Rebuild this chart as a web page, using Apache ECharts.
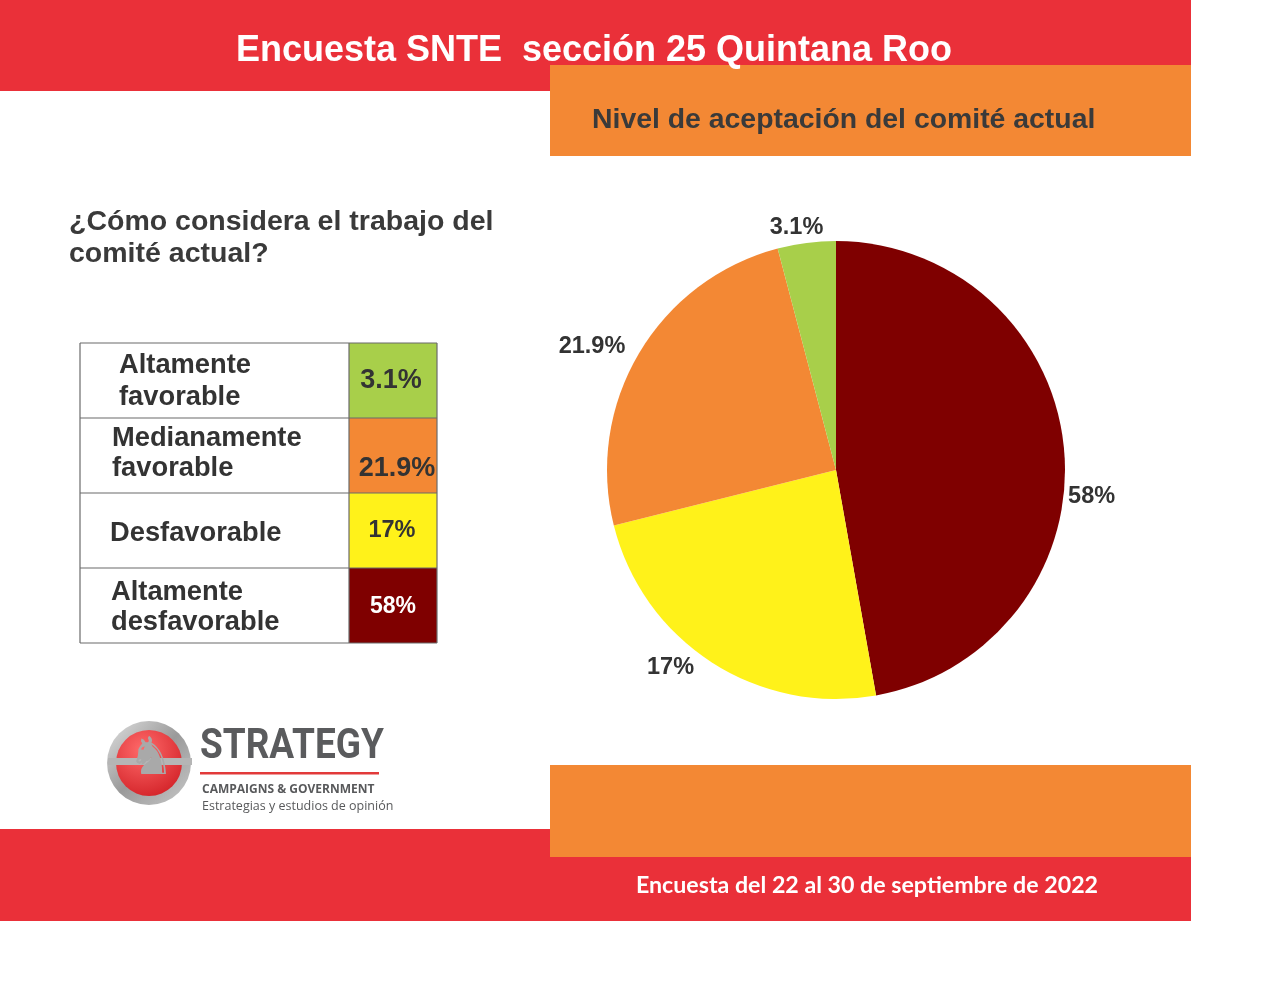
<!DOCTYPE html>
<html><head><meta charset="utf-8">
<script src="https://cdn.jsdelivr.net/npm/echarts@6/dist/echarts.min.js"></script>
<style>html,body{margin:0;padding:0;background:#fff}#c{width:1280px;height:1002px}</style>
</head><body><div id="c"></div>
<script>
// ---- data ----
const categories = ['Altamente desfavorable', 'Desfavorable', 'Medianamente favorable', 'Altamente favorable'];
// slice shares as drawn in the reference pie (degrees measured / 360)
const sliceShares = [47.2, 23.9, 24.8, 4.1];
// percentage labels printed on the reference
const shownLabels = ['58%', '17%', '21.9%', '3.1%'];
const sliceColors = ['#7f0000', '#fff21a', '#f38834', '#a8cf4a'];
// table (top to bottom)
const tableRows = [
  {lines: ['Altamente', 'favorable'], idx: 3},
  {lines: ['Medianamente', 'favorable'], idx: 2},
  {lines: ['Desfavorable'], idx: 1},
  {lines: ['Altamente', 'desfavorable'], idx: 0}
];
// label nudges (style only)
const labelNudge = [[-15, 48], [-3, -3], [4, -2], [27, -5]];

const RED = '#ea3039', ORANGE = '#f38834', DARK = '#333333';
const chart = echarts.init(document.getElementById('c'), null, {renderer: 'canvas'});

const g = [];
// top red band and orange header
g.push({type: 'rect', shape: {x: 0, y: 0, width: 1191, height: 91}, style: {fill: RED}, z: 1});
g.push({type: 'rect', shape: {x: 550, y: 65, width: 641, height: 91}, style: {fill: ORANGE}, z: 2});
g.push({type: 'text', x: 594, y: 51, z: 3, style: {text: 'Encuesta SNTE  sección 25 Quintana Roo', fill: '#fff',
  font: 'bold 36px "Liberation Sans", Arial', textAlign: 'center', textVerticalAlign: 'middle'}});
g.push({type: 'text', x: 592, y: 120, z: 3, style: {text: 'Nivel de aceptación del comité actual', fill: '#3a3a3a',
  font: 'bold 28.4px "Liberation Sans", Arial', textAlign: 'left', textVerticalAlign: 'middle'}});
// question
g.push({type: 'text', x: 69, y: 222, z: 3, style: {text: '¿Cómo considera el trabajo del', fill: '#3a3a3a',
  font: 'bold 28.5px "Liberation Sans", Arial', textVerticalAlign: 'middle'}});
g.push({type: 'text', x: 69, y: 254, z: 3, style: {text: 'comité actual?', fill: '#3a3a3a',
  font: 'bold 28.5px "Liberation Sans", Arial', textVerticalAlign: 'middle'}});
// table
const tX = 80, tW1 = 269, tW2 = 88, tY = 343, rowH = 75;
const labelX = [119, 112, 110, 111];
const lineYs = [[22, 54], [20, 50], [40], [24, 54]];
const valY = [38, 51, 38, 39];
const valSize = [27, 27, 23.5, 23];
const valX = [391, 397, 392, 393];
tableRows.forEach((r, i) => {
  const y = tY + i * rowH;
  g.push({type: 'rect', shape: {x: tX + tW1, y: y, width: tW2, height: rowH}, style: {fill: sliceColors[r.idx]}, z: 3});
  r.lines.forEach((ln, k) => {
    g.push({type: 'text', x: labelX[i], y: y + lineYs[i][k], z: 4, style: {text: ln, fill: DARK,
      font: 'bold 27.3px "Liberation Sans", Arial', textVerticalAlign: 'middle'}});
  });
  g.push({type: 'text', x: valX[i], y: y + valY[i], z: 4, style: {text: shownLabels[r.idx],
    fill: r.idx === 0 ? '#fff' : DARK, font: 'bold ' + valSize[i] + 'px "Liberation Sans", Arial', textAlign: 'center', textVerticalAlign: 'middle'}});
});
// grid lines of table
for (let i = 0; i <= 4; i++) {
  g.push({type: 'line', shape: {x1: tX, y1: tY + i * rowH, x2: tX + tW1 + tW2, y2: tY + i * rowH}, style: {stroke: '#6b6b6b', lineWidth: 1.2}, z: 5});
}
[tX, tX + tW1, tX + tW1 + tW2].forEach(x => {
  g.push({type: 'line', shape: {x1: x, y1: tY, x2: x, y2: tY + 4 * rowH}, style: {stroke: '#6b6b6b', lineWidth: 1.2}, z: 5});
});
// logo
g.push({type: 'circle', shape: {cx: 149, cy: 763, r: 42}, z: 3, style: {fill: new echarts.graphic.LinearGradient(0, 0, 1, 1, [
  {offset: 0, color: '#e0e0e0'}, {offset: 0.5, color: '#9a9a9a'}, {offset: 1, color: '#c8c8c8'}])}});
g.push({type: 'circle', shape: {cx: 149, cy: 763, r: 33}, z: 4, style: {fill: new echarts.graphic.RadialGradient(0.4, 0.3, 0.8, [
  {offset: 0, color: '#ff6a6a'}, {offset: 1, color: '#d11f25'}])}});
g.push({type: 'rect', shape: {x: 108, y: 758, width: 84, height: 7}, z: 5, style: {fill: '#b5b5b5'}});
g.push({type: 'text', x: 151, y: 760, z: 6, style: {text: '♞', fill: '#a9a9a9', font: '52px "DejaVu Sans"', textAlign: 'center', textVerticalAlign: 'middle'}});
g.push({type: 'text', x: 200, y: 747, z: 3, scaleX: 0.86, originX: 0, style: {text: 'STRATEGY', fill: '#5a5b5d',
  font: 'bold 43px Roboto, "Liberation Sans"', textVerticalAlign: 'middle'}});
g.push({type: 'rect', shape: {x: 200, y: 772, width: 179, height: 2.5}, z: 3, style: {fill: '#e23a3a'}});
g.push({type: 'text', x: 202, y: 790, z: 3, style: {text: 'CAMPAIGNS & GOVERNMENT', fill: '#58595b',
  font: 'bold 12px "Open Sans", Lato', textVerticalAlign: 'middle'}});
g.push({type: 'text', x: 202, y: 806, z: 3, style: {text: 'Estrategias y estudios de opinión', fill: '#58595b',
  font: '12.5px "Open Sans", Lato', textVerticalAlign: 'middle'}});
// bottom bands
g.push({type: 'rect', shape: {x: 0, y: 829, width: 1191, height: 92}, style: {fill: RED}, z: 1});
g.push({type: 'rect', shape: {x: 550, y: 765, width: 641, height: 92}, style: {fill: ORANGE}, z: 2});
g.push({type: 'text', x: 867, y: 886, z: 3, style: {text: 'Encuesta del 22 al 30 de septiembre de 2022', fill: '#fff',
  font: 'bold 23.2px Lato, "Open Sans"', textAlign: 'center', textVerticalAlign: 'middle'}});

chart.setOption({
  animation: false,
  backgroundColor: '#fff',
  graphic: g,
  series: [{
    type: 'pie',
    center: [836, 470],
    radius: 229,
    startAngle: 90,
    clockwise: true,
    z: 10,
    data: categories.map((c, i) => ({name: c, value: sliceShares[i], itemStyle: {color: sliceColors[i]}})),
    label: {show: true, position: 'outside', formatter: p => shownLabels[p.dataIndex],
      color: DARK, fontSize: 23.5, fontWeight: 'bold', fontFamily: '"Liberation Sans", Arial'},
    labelLine: {show: false, length: 10, length2: 4},
    labelLayout: p => ({dx: labelNudge[p.dataIndex][0], dy: labelNudge[p.dataIndex][1]}),
    emphasis: {disabled: true}
  }]
});
</script></body></html>
